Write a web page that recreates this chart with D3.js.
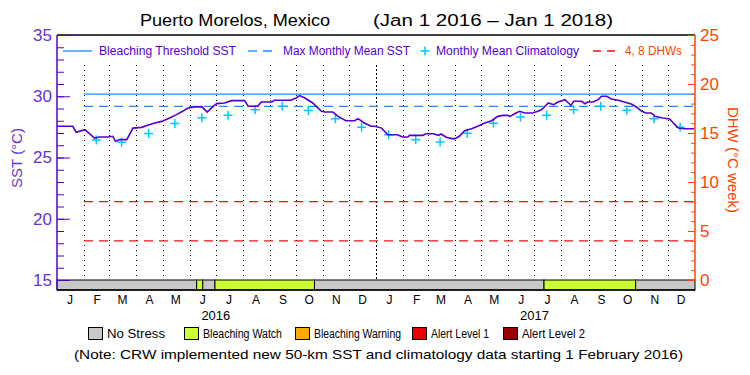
<!DOCTYPE html>
<html>
<head>
<meta charset="utf-8">
<script src="https://cdn.jsdelivr.net/npm/d3@7"></script>
<style>
  body { margin: 0; background: #fff; }
  svg { display: block; font-family: "Liberation Sans", Arial, sans-serif; }
</style>
</head>
<body>
<div id="chart"></div>
<script>
// daily SST
const sstDates = [
  '2016-01-01','2016-01-19','2016-01-23','2016-02-02','2016-02-13','2016-02-19','2016-02-28','2016-03-05',
  '2016-03-08','2016-03-13','2016-03-21','2016-03-28','2016-04-07','2016-04-14','2016-04-22','2016-04-30',
  '2016-05-09','2016-05-17','2016-05-24','2016-05-30','2016-06-07','2016-06-15','2016-06-21','2016-06-28',
  '2016-07-02','2016-07-11','2016-07-19','2016-08-03','2016-08-07','2016-08-18','2016-08-22','2016-09-03',
  '2016-09-06','2016-09-25','2016-10-01','2016-10-05','2016-10-11','2016-10-20','2016-10-30','2016-11-03',
  '2016-11-12','2016-11-18','2016-11-27','2016-12-07','2016-12-11','2016-12-18','2016-12-26','2016-12-30',
  '2017-01-07','2017-01-14','2017-01-25','2017-01-31','2017-02-06','2017-02-08','2017-02-23','2017-02-27',
  '2017-03-07','2017-03-13','2017-03-16','2017-03-22','2017-03-28','2017-04-01','2017-04-06','2017-04-12',
  '2017-04-20','2017-04-27','2017-05-05','2017-05-13','2017-05-20','2017-05-26','2017-05-31','2017-06-03',
  '2017-06-10','2017-06-14','2017-06-20','2017-06-29','2017-07-05','2017-07-09','2017-07-17','2017-07-23',
  '2017-07-28','2017-08-05','2017-08-09','2017-08-12','2017-08-15','2017-08-24','2017-08-28','2017-08-31',
  '2017-09-06','2017-09-12','2017-09-16','2017-09-22','2017-09-27','2017-10-05','2017-10-12','2017-10-16',
  '2017-10-20','2017-10-26','2017-11-01','2017-11-06','2017-11-12','2017-11-16','2017-11-25','2017-12-03',
  '2017-12-09','2017-12-13','2017-12-20','2017-12-31'
];
const sstValues = [
  27.55, 27.55, 27.06, 27.27, 26.59, 26.67, 26.67, 26.73,
  26.32, 26.46, 26.46, 27.40, 27.46, 27.63, 27.82, 27.95,
  28.22, 28.50, 28.77, 29.04, 29.12, 29.15, 28.71, 29.18,
  29.40, 29.45, 29.64, 29.64, 29.18, 29.18, 29.53, 29.53,
  29.67, 29.67, 29.86, 30.05, 29.86, 29.45, 28.77, 28.71,
  28.71, 28.36, 28.00, 28.00, 28.17, 27.82, 27.55, 27.55,
  27.40, 26.86, 26.86, 26.67, 26.67, 26.81, 26.81, 26.94,
  26.94, 26.81, 26.92, 26.65, 26.54, 26.54, 26.73, 27.19,
  27.35, 27.55, 27.82, 28.00, 28.36, 28.44, 28.44, 28.36,
  28.63, 28.77, 28.63, 28.63, 28.77, 28.90, 29.45, 29.31,
  29.53, 29.72, 29.45, 29.26, 29.59, 29.59, 29.39, 29.53,
  29.53, 29.72, 30.00, 30.00, 29.78, 29.67, 29.53, 29.45,
  29.37, 29.12, 28.77, 28.63, 28.63, 28.36, 28.22, 28.14,
  27.68, 27.40, 27.35, 27.35
];

// monthly mean climatology (crosses, mid-month)
const climDates = [
  '2016-02-15','2016-03-15','2016-04-15','2016-05-15','2016-06-15','2016-07-15','2016-08-15','2016-09-15',
  '2016-10-15','2016-11-15','2016-12-15','2017-01-15','2017-02-15','2017-03-15','2017-04-15','2017-05-15',
  '2017-06-15','2017-07-15','2017-08-15','2017-09-15','2017-10-15','2017-11-15','2017-12-15'
];
const climValues = [
  26.43, 26.25, 26.96, 27.78, 28.25, 28.44, 28.90, 29.18,
  28.83, 28.17, 27.46, 26.86, 26.45, 26.27, 26.98, 27.80,
  28.30, 28.44, 28.90, 29.18, 28.85, 28.17, 27.46
];

const mmm = 29.18;
const bleachThreshold = 30.18;
const dhwLevels = [4, 8];
const refStart = '2016-02-01';

// stress level bar
const stressStarts = ['2016-01-01','2016-06-09','2016-06-16','2016-06-30','2016-10-22','2017-07-12','2017-10-25'];
const stressEnds   = ['2016-06-09','2016-06-16','2016-06-30','2016-10-22','2017-07-12','2017-10-25','2018-01-01'];
const stressLevels = ['No Stress','Bleaching Watch','No Stress','Bleaching Watch','No Stress','Bleaching Watch','No Stress'];

const stressNames = ['No Stress','Bleaching Watch','Bleaching Warning','Alert Level 1','Alert Level 2'];
const stressColors = ['#c8c8c8','#ccff33','#ffaa00','#ee0000','#990000'];
const monthLetters = ['J','F','M','A','M','J','J','A','S','O','N','D'];
const yearLabels = ['2016','2017'];

const W = 750, H = 375;
const pLeft = 57, pRight = 695, pTop = 35, pBottom = 280, barBottom = 290;
const purple = '#5500cc', orange = '#ff4400', blue = '#1a8cff', cyan = '#00c8ff', red = '#ee1111';

const parse = d3.utcParse('%Y-%m-%d');
const color = d3.scaleOrdinal().domain(stressNames).range(stressColors);

const x = d3.scaleUtc().domain([parse('2016-01-01'), parse('2018-01-01')]).range([pLeft, pRight]);
const y = d3.scaleLinear().domain([15, 35]).range([pBottom, pTop]);
const yDhw = d3.scaleLinear().domain([0, 25]).range([pBottom, pTop]);

const svg = d3.select('#chart').append('svg').attr('width', W).attr('height', H);

// title
svg.append('text').attr('x', 140).attr('y', 26).attr('font-size', 16)
  .attr('textLength', 190).attr('lengthAdjust', 'spacingAndGlyphs').text('Puerto Morelos, Mexico');
svg.append('text').attr('x', 373).attr('y', 26).attr('font-size', 16)
  .attr('textLength', 240).attr('lengthAdjust', 'spacingAndGlyphs').text('(Jan 1 2016 \u2013 Jan 1 2018)');

// month grid lines
const monthStarts = d3.utcMonths(parse('2016-01-01'), parse('2018-01-01'));
svg.append('g').selectAll('line').data(monthStarts.slice(1)).join('line')
  .attr('x1', d => Math.round(x(d)) + 0.5).attr('x2', d => Math.round(x(d)) + 0.5)
  .attr('y1', 65).attr('y2', pBottom)
  .attr('stroke', '#000').attr('stroke-width', 1)
  .attr('stroke-dasharray', d => d.getUTCMonth() === 0 ? '2,2' : '1,4');

// reference lines
const refX = x(parse(refStart));
svg.append('line').attr('x1', refX).attr('x2', pRight).attr('y1', y(bleachThreshold)).attr('y2', y(bleachThreshold))
  .attr('stroke', blue).attr('stroke-width', 1.3);
svg.append('line').attr('x1', refX).attr('x2', pRight).attr('y1', y(mmm)).attr('y2', y(mmm))
  .attr('stroke', blue).attr('stroke-width', 1.3).attr('stroke-dasharray', '9,6');
svg.append('g').selectAll('line').data(dhwLevels).join('line')
  .attr('x1', refX).attr('x2', pRight).attr('y1', d => yDhw(d)).attr('y2', d => yDhw(d))
  .attr('stroke', red).attr('stroke-width', 1.3).attr('stroke-dasharray', '9,6');

// climatology crosses
const crosses = svg.append('g').attr('stroke', cyan).attr('stroke-width', 1.5);
climDates.forEach((d, i) => {
  const cx = x(parse(d)), cy = y(climValues[i]);
  crosses.append('path').attr('d', `M${cx - 4.5},${cy}H${cx + 4.5}M${cx},${cy - 4.5}V${cy + 4.5}`);
});

// SST line
const sst = sstDates.map((d, i) => ({ date: parse(d), value: sstValues[i] }));
svg.append('path').datum(sst)
  .attr('fill', 'none').attr('stroke', purple).attr('stroke-width', 1.6)
  .attr('d', d3.line().x(d => x(d.date)).y(d => y(d.value)));

// stress bar
const stress = stressStarts.map((s, i) => ({ start: parse(s), end: parse(stressEnds[i]), level: stressLevels[i] }));
svg.append('g').selectAll('rect').data(stress).join('rect')
  .attr('x', d => x(d.start)).attr('width', d => x(d.end) - x(d.start))
  .attr('y', pBottom).attr('height', barBottom - pBottom)
  .attr('fill', d => color(d.level)).attr('stroke', '#000').attr('stroke-width', 1);

// frame
svg.append('line').attr('x1', pLeft).attr('x2', pRight).attr('y1', pTop).attr('y2', pTop).attr('stroke', '#000').attr('stroke-width', 1.5);
svg.append('line').attr('x1', pLeft).attr('x2', pRight).attr('y1', barBottom).attr('y2', barBottom).attr('stroke', '#000').attr('stroke-width', 1.5);

// left axis (SST)
const leftAxis = svg.append('g').attr('transform', `translate(${pLeft},0)`).style('color', purple);
leftAxis.call(d3.axisLeft(y).tickValues(d3.range(15, 36, 1)).tickSize(-7).tickSizeOuter(0).tickFormat(''));
leftAxis.append('g').call(d3.axisLeft(y).tickValues([15, 20, 25, 30, 35]).tickSize(-13).tickSizeOuter(0).tickPadding(5))
  .call(g => g.select('.domain').remove())
  .selectAll('text').attr('font-size', 17).attr('fill', '#6633cc').attr('font-family', '"Liberation Sans", Arial, sans-serif');
leftAxis.select('.domain').attr('d', `M0,${pTop}V${barBottom}`).attr('stroke-width', 1.5);

// right axis (DHW)
const rightAxis = svg.append('g').attr('transform', `translate(${pRight},0)`).style('color', orange);
rightAxis.call(d3.axisRight(yDhw).tickValues(d3.range(0, 26, 1)).tickSize(-4).tickSizeOuter(0).tickFormat(''));
rightAxis.append('g').call(d3.axisRight(yDhw).tickValues([0, 5, 10, 15, 20, 25]).tickSize(-7).tickSizeOuter(0).tickPadding(5))
  .call(g => g.select('.domain').remove())
  .selectAll('text').attr('font-size', 17).attr('font-family', '"Liberation Sans", Arial, sans-serif');
rightAxis.select('.domain').attr('d', `M0,${pTop}V${pBottom}`).attr('stroke-width', 1.5);

// axis titles
svg.append('text').attr('transform', 'translate(22,158) rotate(-90)').attr('text-anchor', 'middle')
  .attr('font-size', 15).attr('fill', '#6633cc').text('SST (\u00b0C)');
svg.append('text').attr('transform', 'translate(728,160) rotate(90)').attr('text-anchor', 'middle')
  .attr('font-size', 15).attr('fill', orange).text('DHW (\u00b0C week)');

// month and year labels
svg.append('g').selectAll('text').data(monthStarts).join('text')
  .attr('x', d => x(new Date(d.getTime() + 15 * 864e5))).attr('y', 304)
  .attr('text-anchor', 'middle').attr('font-size', 12).text(d => monthLetters[d.getUTCMonth()]);
svg.append('g').selectAll('text').data(yearLabels).join('text')
  .attr('x', d => x(parse(d + '-07-01'))).attr('y', 320)
  .attr('text-anchor', 'middle').attr('font-size', 13).text(d => d);

// in-plot legend
const lg = svg.append('g').attr('font-size', 12);
lg.append('line').attr('x1', 63).attr('x2', 92).attr('y1', 51).attr('y2', 51).attr('stroke', blue).attr('stroke-width', 1.3);
lg.append('text').attr('x', 99).attr('y', 55).attr('fill', purple).attr('textLength', 137).attr('lengthAdjust', 'spacingAndGlyphs').text('Bleaching Threshold SST');
lg.append('line').attr('x1', 248).attr('x2', 278).attr('y1', 51).attr('y2', 51).attr('stroke', blue).attr('stroke-width', 1.3).attr('stroke-dasharray', '9,6');
lg.append('text').attr('x', 283).attr('y', 55).attr('fill', purple).attr('textLength', 127).attr('lengthAdjust', 'spacingAndGlyphs').text('Max Monthly Mean SST');
lg.append('path').attr('d', 'M420.5,51H429.5M425,46.5V55.5').attr('stroke', cyan).attr('stroke-width', 1.5);
lg.append('text').attr('x', 436).attr('y', 55).attr('fill', purple).attr('textLength', 143).attr('lengthAdjust', 'spacingAndGlyphs').text('Monthly Mean Climatology');
lg.append('line').attr('x1', 593).attr('x2', 620).attr('y1', 51).attr('y2', 51).attr('stroke', red).attr('stroke-width', 1.3).attr('stroke-dasharray', '8,6');
lg.append('text').attr('x', 625).attr('y', 55).attr('fill', orange).attr('textLength', 57).attr('lengthAdjust', 'spacingAndGlyphs').text('4, 8 DHWs');

// stress legend
const boxX = [88, 184, 295, 412, 503];
const textW = [58, 79, 87, 58, 63];
const sl = svg.append('g').attr('font-size', 12);
stressNames.forEach((n, i) => {
  sl.append('rect').attr('x', boxX[i] + 0.5).attr('y', 327.5).attr('width', 14).attr('height', 12)
    .attr('fill', stressColors[i]).attr('stroke', '#000');
  sl.append('text').attr('x', boxX[i] + 19).attr('y', 338).attr('textLength', textW[i])
    .attr('lengthAdjust', 'spacingAndGlyphs').text(n);
});

svg.append('text').attr('x', 74).attr('y', 359).attr('font-size', 13)
  .attr('textLength', 609).attr('lengthAdjust', 'spacingAndGlyphs')
  .text('(Note: CRW implemented new 50-km SST and climatology data starting 1 February 2016)');
</script>
</body>
</html>
